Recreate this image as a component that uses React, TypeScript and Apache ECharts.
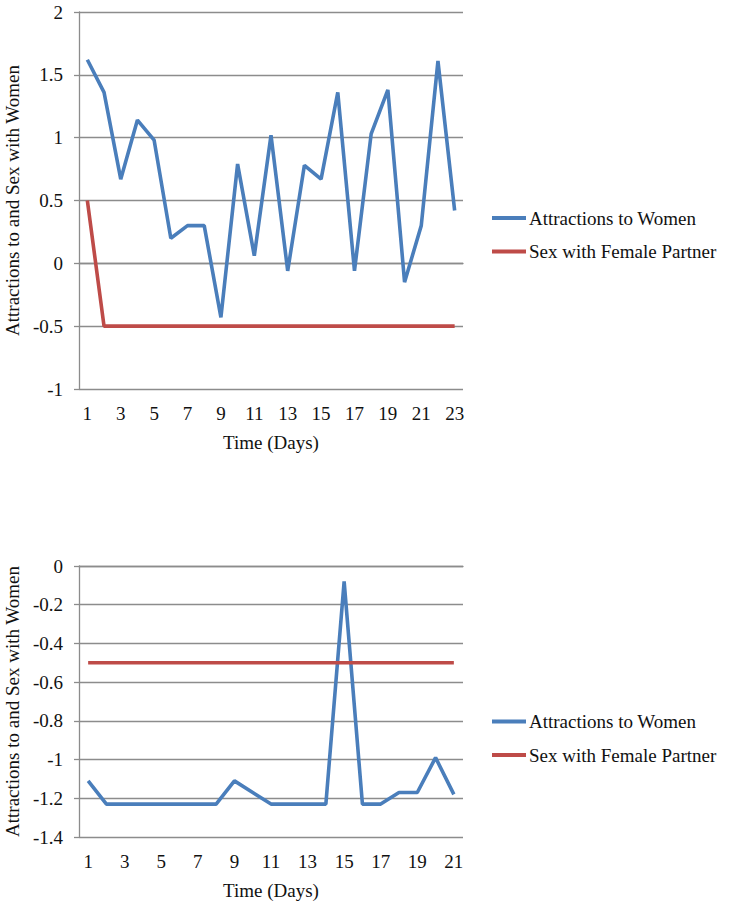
import React, { useEffect, useRef } from "react";
import * as echarts from "echarts";

const daysTop = Array.from({ length: 23 }, (_, i) => String(i + 1));
const daysBottom = Array.from({ length: 21 }, (_, i) => String(i + 1));

const attractionsTop = [1.62, 1.36, 0.67, 1.14, 0.98, 0.2, 0.3, 0.3, -0.43, 0.79, 0.06, 1.02, -0.06, 0.78, 0.67, 1.36, -0.06, 1.03, 1.38, -0.15, 0.3, 1.61, 0.42];
const sexTop = [0.5, -0.5, -0.5, -0.5, -0.5, -0.5, -0.5, -0.5, -0.5, -0.5, -0.5, -0.5, -0.5, -0.5, -0.5, -0.5, -0.5, -0.5, -0.5, -0.5, -0.5, -0.5, -0.5];

const attractionsBottom = [-1.11, -1.23, -1.23, -1.23, -1.23, -1.23, -1.23, -1.23, -1.11, -1.17, -1.23, -1.23, -1.23, -1.23, -0.08, -1.23, -1.23, -1.17, -1.17, -0.99, -1.18];
const sexBottom = [-0.5, -0.5, -0.5, -0.5, -0.5, -0.5, -0.5, -0.5, -0.5, -0.5, -0.5, -0.5, -0.5, -0.5, -0.5, -0.5, -0.5, -0.5, -0.5, -0.5, -0.5];

const seriesNames = ["Attractions to Women", "Sex with Female Partner"];
const xAxisName = "Time (Days)";
const yAxisName = "Attractions to and Sex with Women";

const FONT = "'Liberation Serif', 'Times New Roman', serif";
const FS = 19;
const BLUE = "#4A7EBB";
const RED = "#BE4B48";
const GRID = "#8c8c8c";

export default function App() {
  const ref = useRef<HTMLDivElement>(null);
  useEffect(() => {
    if (!ref.current) return;
    const chart = echarts.init(ref.current, null, { renderer: "svg" });
    const xAxisCommon = (data: string[], gridIndex: number) => ({
      type: "category",
      gridIndex,
      data,
      boundaryGap: true,
      name: xAxisName,
      nameLocation: "middle",
      nameGap: 44,
      nameTextStyle: { fontFamily: FONT, fontSize: FS, color: "#111" },
      axisLine: { show: true, lineStyle: { color: GRID, width: 1.3 } },
      axisTick: { show: false },
      axisLabel: {
        interval: 1,
        fontFamily: FONT,
        fontSize: FS,
        color: "#111",
        margin: 15,
      },
    });
    const yAxisCommon = (gridIndex: number, min: number, max: number, interval: number) => ({
      type: "value",
      gridIndex,
      min,
      max,
      interval,
      name: yAxisName,
      nameLocation: "middle",
      nameGap: 55,
      nameTextStyle: { fontFamily: FONT, fontSize: FS, color: "#111" },
      axisLine: { show: true, lineStyle: { color: GRID, width: 1.3 } },
      axisTick: { show: true, length: 5, lineStyle: { color: GRID, width: 1.3 } },
      splitLine: { show: true, lineStyle: { color: GRID, width: 1.3 } },
      axisLabel: {
        fontFamily: FONT,
        fontSize: FS,
        color: "#111",
        margin: 16,
      },
    });
    const line = (name: string, data: number[], color: string, idx: number) => ({
      type: "line",
      name,
      data,
      xAxisIndex: idx,
      yAxisIndex: idx,
      symbol: "none",
      lineStyle: { color, width: 3.6 },
      itemStyle: { color },
    });
    const legend = (top: number) => ({
      orient: "vertical",
      left: 487,
      top,
      icon: "rect",
      itemWidth: 34,
      itemHeight: 4,
      itemGap: 14.5,
      data: seriesNames,
      textStyle: { fontFamily: FONT, fontSize: FS, color: "#111", padding: [0, 0, 0, -2] },
    });
    chart.setOption({
      animation: false,
      backgroundColor: "#fff",
      grid: [
        { left: 79, top: 12, width: 384, height: 377, containLabel: false, outerBoundsMode: "none" },
        { left: 79, top: 566, width: 384, height: 271, containLabel: false, outerBoundsMode: "none" },
      ],
      legend: [legend(203.5), legend(707)],
      xAxis: [xAxisCommon(daysTop, 0), xAxisCommon(daysBottom, 1)],
      yAxis: [yAxisCommon(0, -1, 2, 0.5), yAxisCommon(1, -1.4, 0, 0.2)],
      series: [
        line(seriesNames[0], attractionsTop, BLUE, 0),
        line(seriesNames[1], sexTop, RED, 0),
        line(seriesNames[0], attractionsBottom, BLUE, 1),
        line(seriesNames[1], sexBottom, RED, 1),
      ],
    });
    return () => chart.dispose();
  }, []);
  return (
    <div
      ref={ref}
      style={{ position: "fixed", left: 0, top: 0, width: 729, height: 911, background: "#fff" }}
    />
  );
}
